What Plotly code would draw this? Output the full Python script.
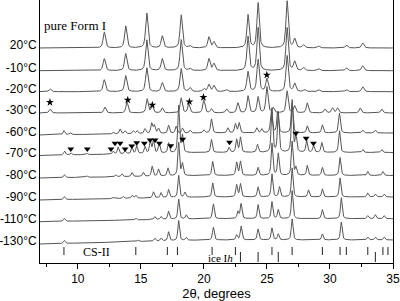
import numpy as np
import plotly.graph_objects as go

# ---------------- data ----------------
temps = ["20°C", "-10°C", "-20°C", "-30°C", "-60°C", "-70°C", "-80°C", "-90°C", "-110°C", "-130°C"]
offsets = [215, 192.3, 171.3, 150, 128, 107.5, 85, 63, 41.3, 19]
rises = [0, 0, 0, 0, 2, 3, 2.5, 3, 3, 4]
fwhm = [0.22, 0.22, 0.22, 0.2, 0.17, 0.16, 0.16, 0.16, 0.16, 0.16]

pos_20 = [12.1, 13.8, 15.47, 16.7, 18.2, 18.9, 20.4, 20.8, 23.5, 24.3, 26.6, 27.2, 27.9, 29.1, 31.3, 32.6]
hgt_20 = [16, 22, 35, 12, 33, 2, 11, 6, 33, 45, 47, 9, 3, 2, 3, 5]
pos_m10 = [12.1, 13.8, 15.47, 16.7, 18.2, 18.9, 20.4, 20.8, 23.5, 24.3, 26.6, 27.2, 27.9, 29.1, 31.3, 32.6]
hgt_m10 = [12, 17, 31, 12, 31, 2, 12, 7, 34, 43, 43, 9, 3, 2, 3, 5]
pos_m20 = [7.8, 12.1, 13.8, 15.47, 16.7, 18.2, 18.9, 20.0, 20.4, 20.8, 21.8, 23.5, 24.3, 25.0, 26.6, 27.2, 28.0, 29.1, 31.3, 32.6]
hgt_m20 = [3, 12, 16, 24, 9, 23, 4, 3, 7, 6, 2, 20, 32, 13, 36, 8, 2, 2, 2, 5]
pos_m30 = [7.8, 12.15, 13.9, 15.5, 15.9, 16.7, 18.2, 18.8, 20.0, 20.6, 21.8, 22.7, 23.5, 24.3, 25.0, 25.5, 26.6, 27.2, 28.2, 29.6, 30.2, 30.6, 32.4, 34.1]
hgt_m30 = [4, 6, 11, 14, 7, 5, 15, 9, 13, 4, 4, 10, 17, 16, 26, 5, 22, 7, 10, 4, 5, 5, 5, 4]
pos_m60 = [8.9, 9.4, 12.8, 13.35, 13.75, 14.4, 14.7, 15.33, 15.86, 16.07, 16.4, 17.2, 17.8, 18.3, 18.9, 20.0, 20.6, 21.9, 22.5, 22.8, 24.2, 24.6, 25.35, 25.85, 27.0, 28.2, 29.4, 30.75, 32.6, 33.6]
hgt_m60 = [4, 2, 2, 5, 3, 3, 3, 5, 10, 8, 5, 8, 7, 5, 3, 3, 14, 5, 9, 10, 5, 4, 22, 21, 30, 7, 8, 20, 3, 3]
pos_m70 = [8.95, 9.45, 10.7, 12.8, 13.2, 13.75, 14.3, 14.67, 15.33, 15.75, 16.0, 16.45, 17.2, 18.0, 18.3, 20.6, 22.0, 22.6, 22.9, 24.25, 25.4, 25.9, 27.0, 27.3, 28.15, 28.7, 29.35, 30.75, 32.6, 34.1]
hgt_m70 = [4, 2, 1.5, 3, 7, 3, 6, 8, 7, 12, 13, 10, 10, 47, 17, 13, 5, 13, 15, 8, 44, 40, 52, 17, 12, 7, 10, 22, 3, 3]
pos_m80 = [8.95, 10.7, 13.0, 13.5, 14.3, 15.2, 15.9, 16.4, 17.15, 18.0, 18.3, 20.7, 22.6, 22.9, 24.3, 25.4, 25.9, 27.0, 27.3, 28.2, 29.4, 30.8, 33.0, 34.2]
hgt_m80 = [3, 1.5, 2, 3, 4, 4, 10, 7, 8, 33, 12, 14, 13, 14, 8, 32, 22, 34, 8, 10, 8, 18, 4, 4]
pos_m90 = [8.93, 12.8, 13.6, 14.3, 14.6, 16.0, 16.6, 17.2, 18.0, 18.5, 20.7, 22.6, 22.9, 24.3, 25.4, 26.0, 27.0, 28.3, 29.4, 30.8, 33.0, 33.6, 34.3]
hgt_m90 = [3, 1, 2, 3, 3, 6, 5, 8, 22, 5, 14, 12, 13, 10, 23, 10, 29, 7, 8, 19, 4, 3, 3]
pos_m110 = [8.93, 14.6, 16.1, 16.6, 17.2, 18.0, 18.6, 20.75, 22.7, 22.95, 24.3, 25.4, 25.9, 27.0, 29.4, 30.9, 33.0, 33.6, 34.3]
hgt_m110 = [3, 2, 3, 3, 8, 20, 4, 15, 7, 15, 14, 17, 9, 28, 9, 21, 3, 4, 3]
pos_m130 = [8.93, 14.8, 16.1, 16.6, 17.2, 18.0, 18.6, 20.75, 22.6, 22.95, 24.3, 25.4, 25.9, 27.0, 29.4, 30.9, 33.0, 33.6, 34.3]
hgt_m130 = [3, 1.5, 3, 3, 9, 20, 3, 13, 5, 14, 11, 12, 6, 21, 6, 18, 3, 3, 3]

peak_pos = [pos_20, pos_m10, pos_m20, pos_m30, pos_m60, pos_m70, pos_m80, pos_m90, pos_m110, pos_m130]
peak_hgt = [hgt_20, hgt_m10, hgt_m20, hgt_m30, hgt_m60, hgt_m70, hgt_m80, hgt_m90, hgt_m110, hgt_m130]

star_x = [7.79, 13.96, 15.91, 18.85, 19.96, 24.99]
star_y = [160.7, 163, 158, 161.3, 165.7, 188]
tri_x = [9.44, 10.75, 12.63, 12.95, 13.35, 13.75, 14.28, 14.67, 15.28, 15.73, 16.13, 16.47, 17.37, 18.32, 22.03, 27.29, 28.11, 28.69]
tri_y = [114, 114, 114, 119.7, 119.7, 114, 117, 120.3, 119.7, 123, 123, 119.7, 117.3, 123.7, 120.7, 129.7, 124.7, 119.7]

cs2_lines = [8.9, 14.6, 17.1, 17.9, 20.65, 22.5, 25.4, 27.0, 29.4, 30.8, 31.3, 33.0, 34.2, 34.6]
ice_lines = [22.9, 24.3, 25.9, 33.6]

x_ticks = [10, 15, 20, 25, 30, 35]

# ---------------- build ----------------
x = np.arange(7.0, 35.0001, 0.02)


def profile(pos, hgt, w, rise):
    y = np.zeros_like(x)
    for p, h in zip(pos, hgt):
        d = (x - p) / (w / 2)
        y += h * (0.6 / (1 + d ** 2) + 0.4 * np.exp(-np.log(2) * d ** 2))
    y += rise * np.clip((x - 7) / 13, 0, 1)
    return y


fig = go.Figure()
for i in range(len(temps)):
    y = offsets[i] + profile(peak_pos[i], peak_hgt[i], fwhm[i], rises[i])
    fig.add_trace(go.Scatter(x=x, y=y, mode="lines", line=dict(color="#555555", width=1),
                             hoverinfo="skip", showlegend=False))

fig.add_trace(go.Scatter(x=star_x, y=star_y, mode="markers",
                         marker=dict(symbol="star", size=6, color="black"), showlegend=False))
fig.add_trace(go.Scatter(x=tri_x, y=tri_y, mode="markers",
                         marker=dict(symbol="triangle-down", size=6, color="black"), showlegend=False))

cx, cy = [], []
for p in cs2_lines:
    cx += [p, p, None]
    cy += [8, 16, None]
fig.add_trace(go.Scatter(x=cx, y=cy, mode="lines", line=dict(color="#222", width=1), showlegend=False))
ix, iy = [], []
for p in ice_lines:
    ix += [p, p, None]
    iy += [1, 11, None]
fig.add_trace(go.Scatter(x=ix, y=iy, mode="lines", line=dict(color="#222", width=1), showlegend=False))

fig.add_annotation(x=7.15, y=238, text="pure Form I", showarrow=False, xanchor="left",
                   font=dict(family="Liberation Serif", size=13, color="black"))
fig.add_annotation(x=11.5, y=11, text="CS-II", showarrow=False,
                   font=dict(family="Liberation Serif", size=12, color="black"))
fig.add_annotation(x=21.3, y=5, text="ice I<i>h</i>", showarrow=False,
                   font=dict(family="Liberation Serif", size=11, color="black"))

fig.update_layout(
    width=400, height=301,
    margin=dict(l=40, r=7, t=0, b=38, pad=0, autoexpand=False),
    paper_bgcolor="white", plot_bgcolor="white",
    font=dict(family="Liberation Sans, Arial", size=12, color="black"),
    showlegend=False, hovermode=False,
)
fig.update_xaxes(range=[7, 35], tickvals=x_ticks, ticks="outside", ticklen=5, tickwidth=1,
                 tickcolor="black", showline=True, linecolor="black", linewidth=1, mirror=False,
                 showgrid=False, zeroline=False, automargin=False,
                 minor=dict(ticks="outside", ticklen=3, dtick=2.5, tick0=7.5, tickcolor="black", showgrid=False),
                 title=dict(text="2θ, degrees", font=dict(size=13), standoff=0),
                 tickfont=dict(size=12))
fig.update_yaxes(range=[0, 263], tickvals=[o + 3 for o in offsets], ticktext=temps, ticks="",
                 showline=True, linecolor="black", linewidth=1, mirror=True, automargin=False,
                 showgrid=False, zeroline=False, tickfont=dict(size=12))

fig.write_html("out.html", config={"displayModeBar": False},
               post_script="document.body.style.margin='0';document.body.style.overflow='hidden';")
